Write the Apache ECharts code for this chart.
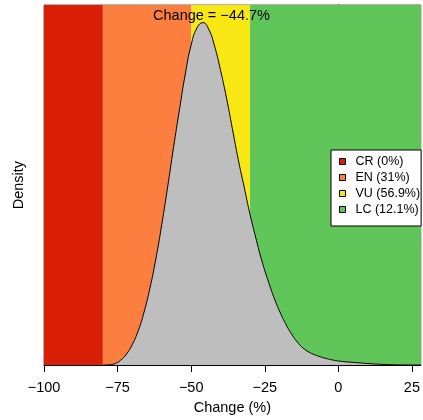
<!DOCTYPE html>
<html>
<head>
<meta charset="utf-8">
<script src="https://cdn.jsdelivr.net/npm/echarts@6/dist/echarts.min.js"></script>
<style>
  html, body { margin: 0; padding: 0; background: #fff; }
  #chart { width: 423px; height: 420px; }
</style>
</head>
<body>
<div id="chart"></div>
<script>
// density curve (peak scaled to 1)
const changeX = [-80, -78, -76, -74, -72, -70, -68, -66, -64, -62, -60, -58, -56, -54, -52, -50,
  -48, -46, -44, -42, -40, -38, -36, -34, -32, -30, -28, -26, -24, -22, -20, -18, -16, -14, -12,
  -10, -8, -6, -4, -2, 0, 2, 4, 6, 8, 10, 14, 18, 22, 28];
const density = [0, 0.0008, 0.004, 0.014, 0.032, 0.06, 0.10, 0.155, 0.225, 0.31, 0.41, 0.52,
  0.635, 0.745, 0.85, 0.935, 0.985, 1.0, 0.98, 0.93, 0.86, 0.78, 0.69, 0.60, 0.52, 0.44, 0.37,
  0.305, 0.25, 0.20, 0.158, 0.122, 0.092, 0.068, 0.05, 0.038, 0.03, 0.024, 0.019, 0.015, 0.012,
  0.010, 0.0085, 0.0072, 0.006, 0.0045, 0.0025, 0.0012, 0.0005, 0.0002];

// IUCN category bands
const bandNames = ["CR (0%)", "EN (31%)", "VU (56.9%)", "LC (12.1%)"];
const bandFrom = [-100, -80, -50, -30];
const bandTo = [-80, -50, -30, 28];
const bandColors = ["#D81E05", "#FC7F3F", "#F9E814", "#60C659"];

const xTicks = [-100, -75, -50, -25, 0, 25];
const titleText = "Change = \u221244.7%";

const font = "'Liberation Sans', Arial, sans-serif";
const minus = (v) => String(v).replace("-", "\u2212");

const chart = echarts.init(document.getElementById("chart"));

const bandSeries = bandNames.map((name, i) => ({
  name: name,
  type: "line",
  data: [],
  z: 1,
  color: bandColors[i],
  itemStyle: { color: bandColors[i] },
  markArea: {
    silent: true,
    itemStyle: { color: bandColors[i], opacity: 1 },
    data: [[{ xAxis: bandFrom[i] }, { xAxis: bandTo[i] }]],
  },
}));

chart.setOption({
  animation: false,
  title: {
    text: titleText,
    left: "center",
    top: 8,
    padding: 0,
    textStyle: { fontFamily: font, fontSize: 14.5, fontWeight: "normal", color: "#000" },
  },
  grid: {
    left: 44,
    right: 0,
    top: 5,
    bottom: 51,
    show: true,
    borderColor: "#666",
    borderWidth: 1,
  },
  legend: {
    orient: "vertical",
    left: 331,
    top: 150,
    data: bandNames,
    icon: "rect",
    itemWidth: 6,
    itemHeight: 6,
    itemGap: 3,
    padding: [5, 1, 10, 8],
    backgroundColor: "#fff",
    borderColor: "#000",
    borderWidth: 1,
    borderRadius: 0,
    itemStyle: { borderColor: "#000", borderWidth: 1 },
    formatter: (name) => "{t|" + name + "}",
    textStyle: {
      fontFamily: font,
      fontSize: 12.5,
      color: "#000",
      rich: { t: { fontFamily: font, fontSize: 12.5, color: "#000", padding: [0, 0, 0, 5] } },
    },
  },
  xAxis: {
    type: "value",
    min: -100,
    max: 28,
    interval: 25,
    name: "Change (%)",
    nameLocation: "middle",
    nameGap: 34,
    nameTextStyle: { fontFamily: font, fontSize: 14.5, color: "#000" },
    splitLine: { show: false },
    axisLine: { show: true, onZero: false, lineStyle: { color: "#000", width: 1 } },
    axisTick: { show: true, length: 7, customValues: xTicks, lineStyle: { color: "#000" } },
    axisLabel: {
      customValues: xTicks,
      margin: 15,
      fontFamily: font,
      fontSize: 14.5,
      color: "#000",
      formatter: minus,
    },
  },
  yAxis: {
    type: "value",
    min: 0,
    max: 1.0514,
    name: "Density",
    nameLocation: "middle",
    nameGap: 18,
    nameTextStyle: { fontFamily: font, fontSize: 14.5, color: "#000" },
    splitLine: { show: false },
    axisLine: { show: true, lineStyle: { color: "#000", width: 1 } },
    axisTick: { show: false },
    axisLabel: { show: false },
  },
  series: bandSeries.concat([
    {
      name: "density",
      type: "line",
      z: 5,
      smooth: true,
      symbol: "none",
      data: changeX.map((x, i) => [x, density[i]]),
      lineStyle: { color: "#000", width: 1 },
      areaStyle: { color: "#BEBEBE", opacity: 1 },
    },
  ]),
});
</script>
</body>
</html>
